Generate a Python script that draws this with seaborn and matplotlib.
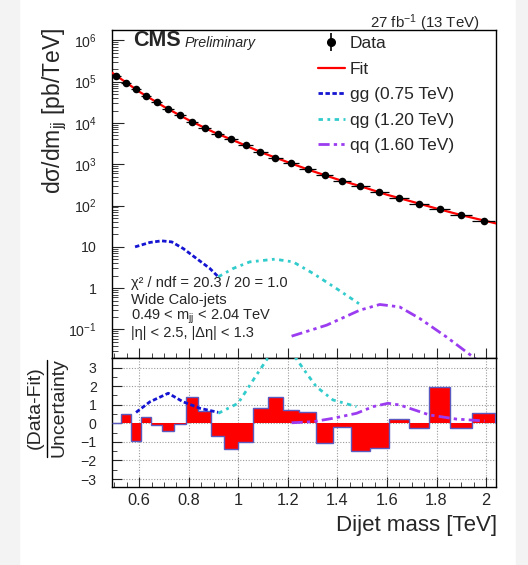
import numpy as np
import pandas as pd
import matplotlib
matplotlib.use("Agg")
import matplotlib.pyplot as plt
import seaborn as sns
from matplotlib.lines import Line2D
from matplotlib.legend_handler import HandlerTuple
from matplotlib.ticker import FixedLocator, FixedFormatter, MultipleLocator, NullFormatter, LogLocator

# ---------------- data ----------------
bin_edges = [0.489, 0.526, 0.565, 0.606, 0.649, 0.693, 0.740, 0.788, 0.838, 0.890,
             0.944, 1.000, 1.058, 1.118, 1.181, 1.246, 1.313, 1.383, 1.455, 1.530,
             1.607, 1.687, 1.770, 1.856, 1.945, 2.037]
data_xsec = [1.38e5, 9.35e4, 6.47e4, 4.53e4, 3.13e4, 2.16e4, 1.52e4, 1.06e4, 7.61e3,
             5.35e3, 3.98e3, 2.85e3, 2.00e3, 1.43e3, 1.05e3, 748, 545, 396, 295,
             208, 151, 112, 80.5, 58.6, 42.7]
residuals = [0.0, 0.5, -0.95, 0.35, -0.1, -0.43, -0.03, 1.43, 0.65, -0.7, -1.38, -0.98,
             0.85, 1.43, 0.74, 0.6, -1.04, -0.22, -1.5, -1.32, 0.22, -0.25, 1.95, -0.27, 0.55]

fit_mass = [0.49, 0.6, 0.7, 0.8, 0.9, 1.0, 1.1, 1.2, 1.3, 1.4, 1.5, 1.6, 1.7, 1.8, 1.9, 2.04]
fit_xsec = [1.65e5, 5.71e4, 2.47e4, 1.17e4, 6.0e3, 3.38e3, 1.87e3, 1.12e3, 681, 431,
            285, 183, 125, 84.7, 58.7, 37.0]

gg_mass = [0.583, 0.643, 0.690, 0.731, 0.777, 0.831, 0.885, 0.919]
gg_xsec = [10.0, 12.8, 14.0, 13.2, 9.15, 5.24, 3.0, 1.88]
qg_mass = [0.919, 0.979, 1.046, 1.147, 1.221, 1.302, 1.396, 1.490]
qg_xsec = [1.88, 3.0, 4.33, 5.04, 4.33, 2.27, 0.98, 0.41]
qq_mass = [1.215, 1.356, 1.490, 1.571, 1.651, 1.732, 1.840, 1.947, 1.98]
qq_xsec = [0.0689, 0.127, 0.293, 0.403, 0.352, 0.185, 0.066, 0.0217, 0.015]

gg_res_mass = [0.587, 0.643, 0.717, 0.777, 0.845, 0.919]
gg_res = [0.59, 1.16, 1.62, 1.16, 0.81, 0.59]
qg_res_mass = [0.919, 0.999, 1.073, 1.127, 1.175, 1.228, 1.275, 1.315, 1.382, 1.477]
qg_res = [0.54, 1.08, 2.60, 3.68, 4.5, 3.59, 2.70, 1.97, 1.26, 0.90]
qq_res_mass = [1.215, 1.302, 1.382, 1.477, 1.544, 1.604, 1.651, 1.772, 1.880, 1.994]
qq_res = [0.03, 0.09, 0.27, 0.54, 0.90, 1.08, 0.99, 0.45, 0.23, 0.13]

ytick_values = [1e-1, 1, 10, 1e2, 1e3, 1e4, 1e5, 1e6]
ytick_labels = ["$10^{-1}$", "1", "10", "$10^{2}$", "$10^{3}$", "$10^{4}$", "$10^{5}$", "$10^{6}$"]
xtick_values = [0.6, 0.8, 1.0, 1.2, 1.4, 1.6, 1.8, 2.0]
xtick_labels = ["0.6", "0.8", "1", "1.2", "1.4", "1.6", "1.8", "2"]
rtick_values = [-3, -2, -1, 0, 1, 2, 3]
rtick_labels = ["\u22123", "\u22122", "\u22121", "0", "1", "2", "3"]

legend_labels = ["Data", "Fit", "gg (0.75 TeV)", "qg (1.20 TeV)", "qq (1.60 TeV)"]

# ---------------- style ----------------
sns.set_theme(style="ticks")
plt.rcParams["font.family"] = ["Liberation Sans", "DejaVu Sans"]
plt.rcParams["mathtext.fontset"] = "custom"
plt.rcParams["mathtext.rm"] = "Liberation Sans"
plt.rcParams["mathtext.it"] = "Liberation Sans:italic"
plt.rcParams["mathtext.bf"] = "Liberation Sans:bold"
plt.rcParams["axes.edgecolor"] = "black"
plt.rcParams["axes.linewidth"] = 1.0

W, H = 528, 565
fig = plt.figure(figsize=(W / 100, H / 100), dpi=100)
fig.patch.set_facecolor("white")

# light grey margins of the page
fig.patches.append(plt.Rectangle((0, 0), 19 / W, 1, transform=fig.transFigure,
                                 color="#f3f3f3", zorder=-10))
fig.patches.append(plt.Rectangle((516 / W, 0), 12 / W, 1, transform=fig.transFigure,
                                 color="#f3f3f3", zorder=-10))

left, right = 112 / W, 496 / W
ax1 = fig.add_axes([left, 1 - 358 / H, right - left, (358 - 30) / H])
ax2 = fig.add_axes([left, 1 - 487 / H, right - left, (487 - 358) / H], sharex=ax1)

edges = np.array(bin_edges)
centers = 0.5 * (edges[:-1] + edges[1:])
halfw = 0.5 * (edges[1:] - edges[:-1])

C_GG, C_QG, C_QQ = "#1414d2", "#33cccc", "#9b3cf0"
LS_GG = (0, (1.6, 0.9))
LS_QG = (0, (1.6, 1.6, 1.0, 1.6))
LS_QQ = (0, (4, 1.5, 1.2, 1.5, 1.2, 1.5))

# ---------------- upper panel ----------------
ax1.set_yscale("log")
sns.lineplot(x=fit_mass, y=fit_xsec, ax=ax1, color="#ff0000", lw=1.6,
             estimator=None, sort=False, zorder=3)
ax1.errorbar(centers, data_xsec, xerr=halfw, fmt="none", ecolor="black",
             elinewidth=0.9, zorder=4)
sns.scatterplot(x=centers, y=data_xsec, ax=ax1, color="black", s=30,
                edgecolor="black", linewidth=0, zorder=5)
sns.lineplot(x=gg_mass, y=gg_xsec, ax=ax1, color=C_GG, lw=2, linestyle=LS_GG,
             estimator=None, sort=False)
sns.lineplot(x=qg_mass, y=qg_xsec, ax=ax1, color=C_QG, lw=2, linestyle=LS_QG,
             estimator=None, sort=False)
sns.lineplot(x=qq_mass, y=qq_xsec, ax=ax1, color=C_QQ, lw=2, linestyle=LS_QQ,
             estimator=None, sort=False)

ax1.set_xlim(0.49, 2.04)
ax1.set_ylim(0.0204, 1.78e6)
ax1.yaxis.set_major_locator(FixedLocator(ytick_values))
ax1.yaxis.set_major_formatter(FixedFormatter(ytick_labels))
ax1.yaxis.set_minor_locator(LogLocator(base=10, subs=np.arange(2, 10), numticks=100))
ax1.yaxis.set_minor_formatter(NullFormatter())
ax1.tick_params(axis="y", which="major", direction="in", length=8.5, width=0.8,
                labelsize=10.2, pad=11, right=False)
ax1.tick_params(axis="y", which="minor", direction="in", length=4.5, width=0.6, right=False)
ax1.tick_params(axis="x", which="major", direction="in", length=7, width=0.8,
                labelbottom=False, top=False)
ax1.tick_params(axis="x", which="minor", direction="in", length=3.5, width=0.6, top=False)
ax1.set_xlabel("")
ax1.set_ylabel("")
for s in ax1.spines.values():
    s.set_visible(True)
    s.set_linewidth(1.0)

# legend
h_data = (Line2D([], [], marker="|", ls="none", color="black", ms=13, mew=1.2),
          Line2D([], [], marker="o", ls="none", color="black", ms=5.5))
h_fit = Line2D([], [], color="#ff0000", lw=1.6)
h_gg = Line2D([], [], color=C_GG, lw=2, linestyle=LS_GG)
h_qg = Line2D([], [], color=C_QG, lw=2, linestyle=LS_QG)
h_qq = Line2D([], [], color=C_QQ, lw=2, linestyle=LS_QQ)
fig.legend([h_data, h_fit, h_gg, h_qg, h_qq], legend_labels,
           handler_map={tuple: HandlerTuple(ndivide=1, pad=0)},
           loc="upper left", bbox_to_anchor=(318 / W, 1 - 36 / H),
           frameon=False, fontsize=12.5, borderpad=0, borderaxespad=0,
           handlelength=1.55, handletextpad=0.3, labelspacing=0.6)

# texts
fig.text(133 / W, 1 - 46.5 / H, "CMS", fontsize=15.5, fontweight="bold",
         ha="left", va="baseline")
fig.text(185 / W, 1 - 46.5 / H, "Preliminary", fontsize=10.3, fontstyle="italic",
         ha="left", va="baseline")
fig.text(480 / W, 1 - 28 / H, "27 fb$^{-1}$ (13 TeV)", fontsize=10.8,
         ha="right", va="baseline")
info = ["\u03c7\u00b2 / ndf = 20.3 / 20 = 1.0", "Wide Calo-jets",
        "0.49 < m$_{\\mathrm{jj}}$ < 2.04 TeV", "|\u03b7| < 2.5, |\u0394\u03b7| < 1.3"]
for txt, yc in zip(info, [283.5, 300, 316.5, 333.5]):
    fig.text(131 / W, 1 - yc / H, txt, fontsize=10.5, ha="left", va="center")

fig.text(55 / W, 1 - 28 / H, "d\u03c3/dm$_{\\mathrm{jj}}$ [pb/TeV]", fontsize=16.5,
         rotation=90, ha="center", va="top")

# ---------------- lower panel ----------------
ax2.stairs(residuals, edges, fill=True, color="#ff0000", zorder=2, baseline=0)
ax2.stairs(residuals, edges, fill=False, color="#5a5ac0", lw=1.0, zorder=3, baseline=0)
sns.lineplot(x=gg_res_mass, y=gg_res, ax=ax2, color=C_GG, lw=2, linestyle=LS_GG,
             estimator=None, sort=False, zorder=4)
sns.lineplot(x=qg_res_mass, y=qg_res, ax=ax2, color=C_QG, lw=2, linestyle=LS_QG,
             estimator=None, sort=False, zorder=4)
sns.lineplot(x=qq_res_mass, y=qq_res, ax=ax2, color=C_QQ, lw=2, linestyle=LS_QQ,
             estimator=None, sort=False, zorder=4)
ax2.set_ylim(-3.43, 3.52)
ax2.set_xlim(0.49, 2.04)
ax2.yaxis.set_major_locator(FixedLocator(rtick_values))
ax2.yaxis.set_major_formatter(FixedFormatter(rtick_labels))
ax2.yaxis.set_minor_locator(MultipleLocator(0.5))
ax2.xaxis.set_major_locator(FixedLocator(xtick_values))
ax2.xaxis.set_major_formatter(FixedFormatter(xtick_labels))
ax2.xaxis.set_minor_locator(MultipleLocator(0.05))
ax2.grid(True, which="major", color="#9a9a9a", linestyle=(0, (1, 1.5)), lw=0.8, zorder=0)
ax2.set_axisbelow(True)
ax2.tick_params(axis="y", which="major", direction="in", length=7, width=0.8,
                labelsize=10.2, pad=11, right=False)
ax2.tick_params(axis="y", which="minor", direction="in", length=3.5, width=0.6, right=False)
ax2.tick_params(axis="x", which="major", direction="in", length=7, width=0.8,
                labelsize=11.8, pad=4, top=False)
ax2.tick_params(axis="x", which="minor", direction="in", length=3.5, width=0.6, top=False)
ax2.set_xlabel("")
ax2.set_ylabel("")
for s in ax2.spines.values():
    s.set_visible(True)
    s.set_linewidth(1.0)

fig.text(497 / W, 1 - 526 / H, "Dijet mass [TeV]", fontsize=16, ha="right", va="center")
yc = 1 - 408 / H
fig.text(35 / W, yc, "(Data-Fit)", fontsize=14, rotation=90, ha="center", va="center")
fig.text(59 / W, yc, "Uncertainty", fontsize=14, rotation=90, ha="center", va="center")
fig.add_artist(Line2D([46.5 / W, 46.5 / W], [1 - 457 / H, 1 - 360 / H],
                      transform=fig.transFigure, color="black", lw=1.0))

fig.savefig("out.png", dpi=100)
